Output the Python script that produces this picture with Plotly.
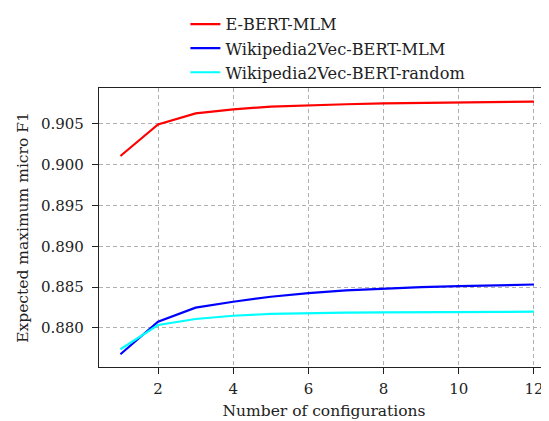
import plotly.graph_objects as go

configs = list(range(1, 13))
ebert_mlm = [0.90108, 0.90494, 0.90630, 0.90680, 0.90712, 0.90730, 0.90742, 0.90752, 0.90760, 0.90766, 0.90771, 0.90775]
w2v_mlm = [0.87678, 0.88077, 0.88249, 0.88322, 0.88383, 0.88428, 0.88460, 0.88484, 0.88500, 0.88512, 0.88523, 0.88533]
w2v_random = [0.87739, 0.88037, 0.88110, 0.88150, 0.88172, 0.88184, 0.88189, 0.88192, 0.88194, 0.88196, 0.88198, 0.88200]

series = [
    ("E-BERT-MLM", ebert_mlm, "#ff0000"),
    ("Wikipedia2Vec-BERT-MLM", w2v_mlm, "#0000ff"),
    ("Wikipedia2Vec-BERT-random", w2v_random, "#00ffff"),
]

fig = go.Figure()
for name, vals, color in series:
    fig.add_trace(go.Scatter(x=configs, y=vals, mode="lines", name=name,
                             line=dict(color=color, width=2.2)))

font = "DejaVu Serif"
fig.update_layout(
    width=541, height=413,
    margin=dict(l=91, r=0, t=80, b=54, autoexpand=False),
    paper_bgcolor="white", plot_bgcolor="white",
    font=dict(family=font, size=15, color="#222"),
    legend=dict(x=0.192, y=1.29, xanchor="left", yanchor="top",
                font=dict(family=font, size=16.2, color="#222"),
                bgcolor="rgba(0,0,0,0)", tracegroupgap=0),
    xaxis=dict(range=[0.43, 12.4], tickvals=[2, 4, 6, 8, 10, 12],
               showgrid=True, gridcolor="#b0b0b0", griddash="4px,3px", gridwidth=1,
               showline=True, linecolor="#222", linewidth=1.2, mirror=True,
               ticks="outside", ticklen=6, tickcolor="#222",
               tickfont=dict(size=15), ticklabelstandoff=2,
               title=dict(text="Number of configurations", font=dict(size=15.5), standoff=8),
               zeroline=False),
    yaxis=dict(range=[0.87522, 0.90941],
               tickvals=[0.880, 0.885, 0.890, 0.895, 0.900, 0.905],
               ticktext=["0.880", "0.885", "0.890", "0.895", "0.900", "0.905"],
               showgrid=True, gridcolor="#b0b0b0", griddash="4px,3px", gridwidth=1,
               showline=True, linecolor="#222", linewidth=1.2,
               ticks="outside", ticklen=6, tickcolor="#222",
               tickfont=dict(size=15), ticklabelstandoff=5,
               title=dict(text="Expected maximum micro F1", font=dict(size=15.5), standoff=8),
               zeroline=False),
)

fig.write_html("out.html")
